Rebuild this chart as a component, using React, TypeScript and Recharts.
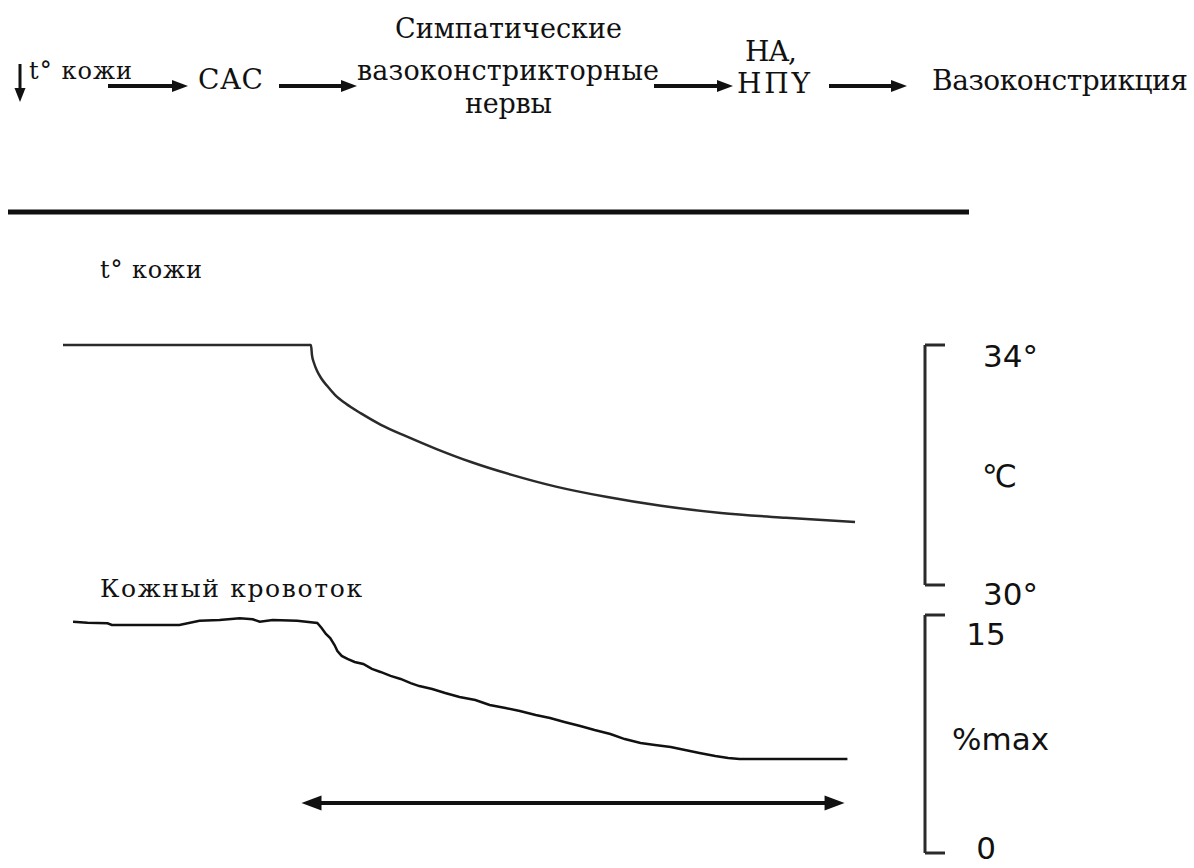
import React from "react";
import { LineChart, Line, XAxis, YAxis, ReferenceLine } from "recharts";

// Time axis, minutes
const timeDomain: [number, number] = [0, 60];

// Skin temperature, °C
const tempTime = [
  0, 17.26, 17.33, 17.47, 17.68, 17.96, 18.38, 18.93, 19.7, 20.74, 22.13, 23.87,
  25.96, 28.4, 31.18, 34.31, 37.79, 41.62, 45.8, 50.32, 55.13,
];
const tempValue = [
  34, 34, 33.83, 33.7, 33.57, 33.45, 33.32, 33.17, 33.02, 32.86, 32.67, 32.48,
  32.27, 32.05, 31.84, 31.64, 31.47, 31.32, 31.2, 31.12, 31.05,
];
const tempTicks = [30, 34];
const tempTickLabels = ["30°", "34°"];

// Skin blood flow, % of max
const flowTime = [
  0.7, 1.7, 3.1, 3.4, 4.9, 8.1, 9.5, 10.9, 12.3, 13.2, 13.7, 14.6, 16.3, 17.7,
  18.0, 18.3, 18.6, 18.9, 19.1, 19.4, 19.8, 20.3, 20.9, 21.5, 22.1, 22.8, 23.5,
  24.2, 24.8, 25.7, 26.6, 27.6, 28.7, 29.7, 30.8, 31.8, 32.9, 33.9, 34.9, 36.0,
  37.0, 38.1, 39.1, 40.2, 41.2, 42.3, 43.3, 44.3, 45.4, 46.3, 47.1, 54.6,
];
const flowValue = [
  14.58, 14.51, 14.48, 14.37, 14.37, 14.37, 14.64, 14.68, 14.79, 14.73, 14.58, 14.68, 14.64, 14.5,
  14.18, 13.8, 13.55, 13.11, 12.73, 12.42, 12.23, 12.04, 11.91, 11.6, 11.41, 11.16, 10.97,
  10.71, 10.52, 10.34, 10.08, 9.83, 9.64, 9.33, 9.14, 8.95, 8.7, 8.51, 8.26, 8.0,
  7.75, 7.5, 7.18, 6.93, 6.81, 6.68, 6.49, 6.3, 6.11, 5.99, 5.92, 5.92,
];
const flowTicks = [0, 15];
const flowTickLabels = ["0", "15"];

// Cooling period marked under the blood-flow trace
const coolingSpan = [16.6, 54.4];
const coolingLevel = 3.15;

const tempData = tempTime.map((t, i) => ({ t, v: tempValue[i] }));
const flowData = flowTime.map((t, i) => ({ t, v: flowValue[i] }));

const INK = "#111";
const LINE = "#2a2a2a";
const SERIF = "'DejaVu Serif', serif";
const SANS = "'DejaVu Sans', sans-serif";

const W = 1194;
const H = 868;

type TextProps = { x: number; y: number; w: number; size: number; children: string };
const T = ({ x, y, w, size, children }: TextProps) => (
  <text
    x={x}
    y={y}
    fontFamily={SERIF}
    fontSize={size}
    fill={INK}
    textLength={w}
    lengthAdjust="spacing"
  >
    {children}
  </text>
);

const Arrow = ({ x1, x2, y, sw = 4, head = 16, half = 6 }: { x1: number; x2: number; y: number; sw?: number; head?: number; half?: number }) => (
  <g>
    <line x1={x1} y1={y} x2={x2 - head + 2} y2={y} stroke={INK} strokeWidth={sw} />
    <polygon points={`${x2},${y} ${x2 - head},${y - half} ${x2 - head},${y + half}`} fill={INK} />
  </g>
);

const Header = () => (
  <svg width={W} height={H} style={{ position: "absolute", left: 0, top: 0 }}>
    {/* reflex chain */}
    <line x1={20} y1={64} x2={20} y2={90} stroke={INK} strokeWidth={3} />
    <polygon points="20,102 14.5,88 25.5,88" fill={INK} />
    <T x={29} y={79} w={103} size={24}>t° кожи</T>
    <Arrow x1={108} x2={188} y={86} />
    <T x={198} y={89} w={65} size={28}>САС</T>
    <Arrow x1={279} x2={357} y={86} />
    <T x={395} y={38} w={227} size={27}>Симпатические</T>
    <T x={357} y={80} w={302} size={27}>вазоконстрикторные</T>
    <T x={465} y={113} w={87} size={27}>нервы</T>
    <Arrow x1={654} x2={733} y={86} />
    <T x={745} y={61} w={52} size={28}>НА,</T>
    <T x={737} y={93} w={73} size={28}>НПY</T>
    <Arrow x1={829} x2={907} y={86} />
    <T x={932} y={90} w={256} size={28}>Вазоконстрикция</T>

    {/* divider */}
    <line x1={8} y1={212} x2={969} y2={212} stroke={INK} strokeWidth={5} />

    {/* panel titles */}
    <T x={100} y={278} w={102} size={24}>t° кожи</T>
    <T x={100} y={597} w={262} size={25}>Кожный кровоток</T>
  </svg>
);

const makeTick = (values: number[], labels: string[], dy: Record<number, number>, anchor: "start" | "middle") =>
  (props: any) => {
    const { x, y, payload } = props;
    const idx = values.indexOf(payload.value);
    return (
      <text x={x} y={y + (dy[payload.value] ?? 0)} textAnchor={anchor} fontFamily={SANS} fontSize={31} fill={INK}>
        {labels[idx]}
      </text>
    );
  };

const makeUnit = (text: string, dx: number, dy: number) => (props: any) => {
  const vb = props.viewBox || {};
  return (
    <text
      x={vb.x + dx}
      y={vb.y + vb.height / 2 + dy}
      fontFamily={SANS}
      fontSize={31}
      fill={INK}
    >
      {text}
    </text>
  );
};

const DoubleArrow = (props: any) => {
  const { x1, x2, y1 } = props;
  const a = Math.min(x1, x2);
  const b = Math.max(x1, x2);
  const head = 20;
  const half = 7.5;
  return (
    <g>
      <line x1={a + head - 2} y1={y1} x2={b - head + 2} y2={y1} stroke={INK} strokeWidth={4} />
      <polygon points={`${a},${y1} ${a + head},${y1 - half} ${a + head},${y1 + half}`} fill={INK} />
      <polygon points={`${b},${y1} ${b - head},${y1 - half} ${b - head},${y1 + half}`} fill={INK} />
    </g>
  );
};

const axisStroke = { stroke: LINE, strokeWidth: 3 };

const TemperatureChart = () => (
  <LineChart width={W} height={H} data={tempData} margin={{ top: 345, right: 69, bottom: 283, left: 63 }}>
    <XAxis type="number" dataKey="t" domain={timeDomain} hide />
    <YAxis
      orientation="right"
      type="number"
      domain={[30, 34]}
      ticks={tempTicks}
      width={200}
      tickSize={20}
      tickMargin={38}
      axisLine={axisStroke}
      tickLine={axisStroke}
      tick={makeTick(tempTicks, tempTickLabels, { 34: 22, 30: 20 }, "start")}
      label={{ content: makeUnit("℃", 57, 22) }}
    />
    <Line type="monotone" dataKey="v" stroke={LINE} strokeWidth={2.5} dot={false} isAnimationActive={false} />
  </LineChart>
);

const FlowChart = () => (
  <LineChart width={W} height={H} data={flowData} margin={{ top: 615, right: 69, bottom: 15, left: 63 }}>
    <XAxis type="number" dataKey="t" domain={timeDomain} hide />
    <YAxis
      orientation="right"
      type="number"
      domain={[0, 15]}
      ticks={flowTicks}
      width={200}
      tickSize={20}
      tickMargin={41}
      axisLine={axisStroke}
      tickLine={axisStroke}
      tick={makeTick(flowTicks, flowTickLabels, { 15: 30, 0: 6 }, "middle")}
      label={{ content: makeUnit("%max", 27, 16) }}
    />
    <ReferenceLine
      segment={[
        { x: coolingSpan[0], y: coolingLevel },
        { x: coolingSpan[1], y: coolingLevel },
      ]}
      shape={DoubleArrow}
    />
    <Line type="linear" dataKey="v" stroke={INK} strokeWidth={2.5} dot={false} isAnimationActive={false} />
  </LineChart>
);

export default function App() {
  return (
    <div style={{ position: "absolute", left: 0, top: 0, width: W, height: H, background: "#fff", overflow: "hidden" }}>
      <Header />
      <div style={{ position: "absolute", left: 0, top: 0 }}>
        <TemperatureChart />
      </div>
      <div style={{ position: "absolute", left: 0, top: 0 }}>
        <FlowChart />
      </div>
    </div>
  );
}
